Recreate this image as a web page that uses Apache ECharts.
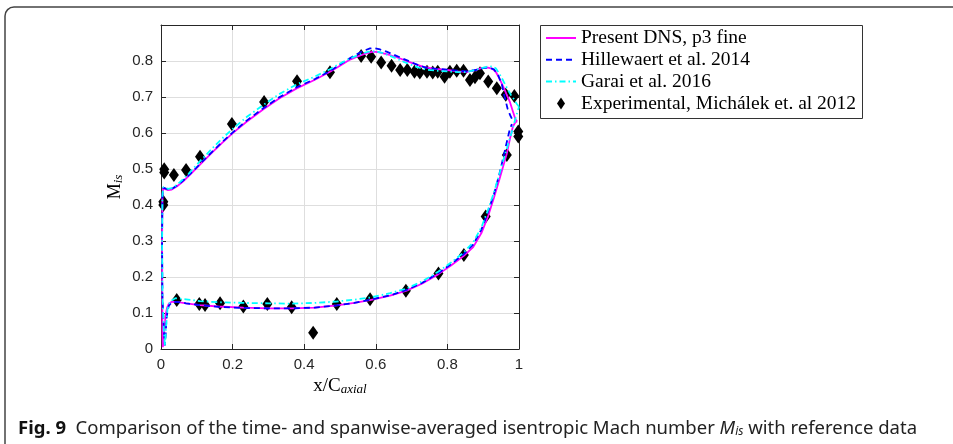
<!DOCTYPE html>
<html>
<head>
<meta charset="utf-8">
<script src="https://cdn.jsdelivr.net/npm/echarts@6/dist/echarts.min.js"></script>
<style>
html,body{margin:0;padding:0;background:#fff;}
#chart{width:953px;height:444px;}
</style>
</head>
<body>
<div id="chart"></div>
<script>
// ---------------- DATA ----------------
const seriesNames = ['Present DNS, p3 fine', 'Hillewaert et al. 2014', 'Garai et al. 2016', 'Experimental, Michálek et. al 2012'];

const xTicks = [0, 0.2, 0.4, 0.6, 0.8, 1];
const yTicks = [0, 0.1, 0.2, 0.3, 0.4, 0.5, 0.6, 0.7, 0.8];

// Present DNS (suction side TE -> LE, then pressure side LE -> TE)
const dnsX = [0.995,0.990,0.983,0.975,0.965,0.956,0.945,0.935,0.925,0.910,0.895,0.875,0.854,0.830,0.800,0.765,0.733,0.700,0.668,0.635,0.610,0.593,0.575,0.555,0.528,0.500,0.472,0.430,0.379,0.330,0.286,0.240,0.202,0.170,0.146,0.109,0.080,0.062,0.045,0.030,0.020,0.012,0.008,0.006,0.004,0.003,0.0035,0.004,0.005,
  0.007,0.010,0.013,0.017,0.022,0.030,0.044,0.070,0.109,0.160,0.230,0.300,0.365,0.430,0.491,0.540,0.584,0.640,0.686,0.730,0.775,0.810,0.845,0.872,0.895,0.914,0.930,0.945,0.955,0.966,0.975,0.983,0.990,0.995];
const dnsY = [0.632,0.638,0.660,0.685,0.708,0.729,0.752,0.770,0.779,0.782,0.780,0.774,0.770,0.771,0.775,0.778,0.784,0.795,0.807,0.818,0.824,0.826,0.822,0.815,0.804,0.787,0.770,0.748,0.724,0.696,0.666,0.632,0.601,0.572,0.549,0.512,0.483,0.466,0.452,0.443,0.441,0.444,0.448,0.446,0.425,0.300,0.150,0.040,0.005,
  0.020,0.060,0.095,0.115,0.126,0.131,0.131,0.127,0.122,0.118,0.115,0.113,0.113,0.115,0.121,0.128,0.136,0.148,0.162,0.182,0.208,0.232,0.258,0.283,0.322,0.370,0.420,0.470,0.505,0.543,0.585,0.618,0.630,0.632];

// Hillewaert et al. 2014
const hilX = [0.980,0.975,0.968,0.960,0.952,0.942,0.930,0.915,0.900,0.880,0.855,0.830,0.800,0.770,0.742,0.720,0.696,0.670,0.649,0.630,0.612,0.595,0.584,0.565,0.540,0.510,0.472,0.430,0.379,0.330,0.286,0.240,0.202,0.170,0.146,0.109,0.080,0.062,0.045,0.030,0.020,0.012,0.008,0.006,0.004,0.003,0.004,0.008,0.011,
  0.013,0.015,0.018,0.022,0.030,0.044,0.070,0.109,0.160,0.230,0.300,0.365,0.430,0.491,0.540,0.584,0.640,0.686,0.730,0.775,0.810,0.845,0.872,0.895,0.914,0.930,0.945,0.958,0.966,0.973,0.980];
const hilY = [0.640,0.650,0.668,0.700,0.735,0.760,0.777,0.782,0.780,0.775,0.771,0.773,0.776,0.778,0.781,0.788,0.798,0.809,0.818,0.826,0.832,0.836,0.835,0.828,0.815,0.797,0.772,0.750,0.727,0.699,0.669,0.635,0.603,0.574,0.551,0.514,0.485,0.468,0.454,0.445,0.443,0.446,0.450,0.448,0.425,0.300,0.150,0.050,0.010,
  0.040,0.080,0.105,0.120,0.130,0.131,0.127,0.122,0.117,0.114,0.113,0.113,0.115,0.121,0.128,0.137,0.149,0.164,0.184,0.211,0.236,0.263,0.290,0.332,0.383,0.430,0.485,0.540,0.575,0.605,0.625];

// Garai et al. 2016
const garX = [1.000,0.993,0.985,0.978,0.968,0.956,0.945,0.935,0.925,0.910,0.890,0.870,0.850,0.830,0.800,0.770,0.740,0.710,0.680,0.650,0.620,0.600,0.580,0.560,0.530,0.500,0.472,0.430,0.379,0.330,0.286,0.240,0.202,0.170,0.146,0.109,0.080,0.062,0.045,0.030,0.020,0.012,0.008,0.006,0.004,0.003,0.004,0.008,0.011,
  0.014,0.018,0.025,0.040,0.070,0.109,0.160,0.230,0.300,0.365,0.430,0.491,0.540,0.584,0.640,0.686,0.730,0.775,0.810,0.845,0.872,0.895,0.914,0.930,0.945,0.958,0.970,0.982,0.990,1.000];
const garY = [0.673,0.682,0.695,0.705,0.722,0.745,0.765,0.780,0.785,0.784,0.779,0.773,0.769,0.769,0.771,0.773,0.776,0.785,0.797,0.810,0.822,0.827,0.826,0.820,0.808,0.793,0.777,0.757,0.735,0.708,0.678,0.645,0.613,0.584,0.560,0.522,0.490,0.472,0.456,0.447,0.445,0.448,0.452,0.450,0.425,0.300,0.150,0.050,0.008,
  0.060,0.110,0.132,0.141,0.138,0.133,0.130,0.128,0.127,0.126,0.128,0.132,0.137,0.143,0.155,0.168,0.188,0.215,0.240,0.268,0.296,0.338,0.388,0.435,0.485,0.530,0.570,0.610,0.640,0.673];

// Experimental, Michálek et al. 2012
const expX = [0.0065,0.0065,0.009,0.009,0.036,0.070,0.109,0.198,0.288,0.380,0.472,0.559,0.587,0.615,0.644,0.668,0.688,0.708,0.723,0.743,0.759,0.773,0.792,0.807,0.826,0.845,0.863,0.877,0.891,0.914,0.938,0.963,0.987,0.998,0.998,0.966,0.907,0.846,0.775,0.684,0.584,0.491,0.425,0.365,0.297,0.230,0.165,0.123,0.107,0.044];
const expY = [0.400,0.409,0.490,0.499,0.483,0.497,0.534,0.625,0.686,0.744,0.769,0.814,0.812,0.796,0.787,0.775,0.775,0.770,0.768,0.770,0.768,0.770,0.756,0.770,0.773,0.773,0.747,0.755,0.766,0.743,0.724,0.706,0.703,0.604,0.590,0.539,0.368,0.261,0.210,0.162,0.138,0.125,0.045,0.116,0.125,0.118,0.127,0.122,0.125,0.136];

// ---------------- CHART ----------------
const zip = (xs, ys) => xs.map((x, i) => [x, ys[i]]);
const tickFont = 'Liberation Sans';
const serif = 'Liberation Serif';
const axisColor = '#262626';

const chart = echarts.init(document.getElementById('chart'), null, {renderer: 'canvas'});

const baseAxis = {
  type: 'value',
  axisLine: {show: true, onZero: false, lineStyle: {color: axisColor, width: 1}},
  axisTick: {show: true, inside: true, length: 5, lineStyle: {color: axisColor}},
};

const option = {
  animation: false,
  backgroundColor: '#fff',
  grid: {left: 161, right: 434, top: 25, bottom: 95, containLabel: false},
  xAxis: [
    Object.assign({}, baseAxis, {
      position: 'bottom', min: xTicks[0], max: xTicks[xTicks.length - 1], interval: 0.2,
      axisLabel: {color: axisColor, fontFamily: tickFont, fontSize: 15, margin: 8,
        formatter: v => String(+v.toFixed(1))},
      splitLine: {show: true, lineStyle: {color: '#dedede', width: 1}},
      name: 'x/C{s|axial}', nameLocation: 'middle', nameGap: 26,
      nameTextStyle: {fontFamily: serif, fontSize: 19, color: '#000',
        rich: {s: {fontFamily: serif, fontStyle: 'italic', fontSize: 13, verticalAlign: 'bottom', padding: [7, 0, 0, 0], color: '#000'}}}
    }),
    Object.assign({}, baseAxis, {
      position: 'top', min: 0, max: 1, interval: 0.2,
      axisLabel: {show: false}, splitLine: {show: false}
    })
  ],
  yAxis: [
    Object.assign({}, baseAxis, {
      position: 'left', min: 0, max: 0.9, interval: 0.1,
      axisLabel: {color: axisColor, fontFamily: tickFont, fontSize: 15, margin: 8,
        formatter: v => (v > 0.85 ? '' : String(+v.toFixed(1)))},
      splitLine: {show: true, lineStyle: {color: '#dedede', width: 1}},
      name: 'M{s|is}', nameLocation: 'middle', nameGap: 36, nameRotate: 90,
      nameTextStyle: {fontFamily: serif, fontSize: 18, color: '#000',
        rich: {s: {fontFamily: serif, fontStyle: 'italic', fontSize: 13, verticalAlign: 'bottom', padding: [7, 0, 0, 0], color: '#000'}}}
    }),
    Object.assign({}, baseAxis, {
      position: 'right', min: 0, max: 0.9, interval: 0.1,
      axisLabel: {show: false}, splitLine: {show: false}
    })
  ],
  legend: {
    orient: 'vertical', left: 540, top: 23,
    itemWidth: 30, itemHeight: 12, itemGap: 1.8,
    itemStyle: {opacity: 0},
    textStyle: {fontFamily: serif, fontSize: 19.5, color: '#000'},
    data: [
      {name: seriesNames[0]},
      {name: seriesNames[1]},
      {name: seriesNames[2]},
      {name: seriesNames[3], icon: 'path://M4,0 L8,6 L4,12 L0,6 Z', itemStyle: {opacity: 1, color: '#000'}}
    ]
  },
  graphic: [
    {type: 'rect', shape: {x: 540.5, y: 25.5, width: 322, height: 93}, style: {fill: 'none', stroke: '#333', lineWidth: 1}, z: 100, silent: true},
    {type: 'rect', shape: {x: 5, y: 7, width: 1000, height: 500, r: 9}, style: {fill: 'none', stroke: '#444', lineWidth: 1.5}, z: 100, silent: true},
    {type: 'text', left: 18, top: 419, z: 100, silent: true,
      style: {
        text: '{b|Fig. 9}  Comparison of the time- and spanwise-averaged isentropic Mach number {i|M}{is|is} with reference data',
        fontFamily: 'Noto Sans', fontSize: 18.5, fill: '#222',
        rich: {
          b: {fontFamily: 'Noto Sans', fontWeight: 'bold', fontSize: 18.5, fill: '#111'},
          i: {fontFamily: 'Noto Sans', fontStyle: 'italic', fontSize: 18.5, fill: '#222'},
          is: {fontFamily: 'Noto Sans', fontStyle: 'italic', fontSize: 12, fill: '#222', verticalAlign: 'bottom', padding: [7, 0, 0, 0]}
        }
      }
    }
  ],
  series: [
    {name: seriesNames[0], type: 'line', xAxisIndex: 0, yAxisIndex: 0, data: zip(dnsX, dnsY),
      symbol: 'none', smooth: false, lineStyle: {color: '#ff00ff', width: 1.8}, itemStyle: {color: '#ff00ff'}},
    {name: seriesNames[1], type: 'line', xAxisIndex: 0, yAxisIndex: 0, data: zip(hilX, hilY),
      symbol: 'none', lineStyle: {color: '#0000ff', width: 1.8, type: [6, 4]}, itemStyle: {color: '#0000ff'}},
    {name: seriesNames[2], type: 'line', xAxisIndex: 0, yAxisIndex: 0, data: zip(garX, garY),
      symbol: 'none', lineStyle: {color: '#00ffff', width: 1.8, type: [6, 3, 1.5, 3]}, itemStyle: {color: '#00ffff'}},
    {name: seriesNames[3], type: 'scatter', xAxisIndex: 0, yAxisIndex: 0, data: zip(expX, expY),
      symbol: 'diamond', symbolSize: [10, 14], itemStyle: {color: '#000', opacity: 1}}
  ]
};
chart.setOption(option);
</script>
</body>
</html>
